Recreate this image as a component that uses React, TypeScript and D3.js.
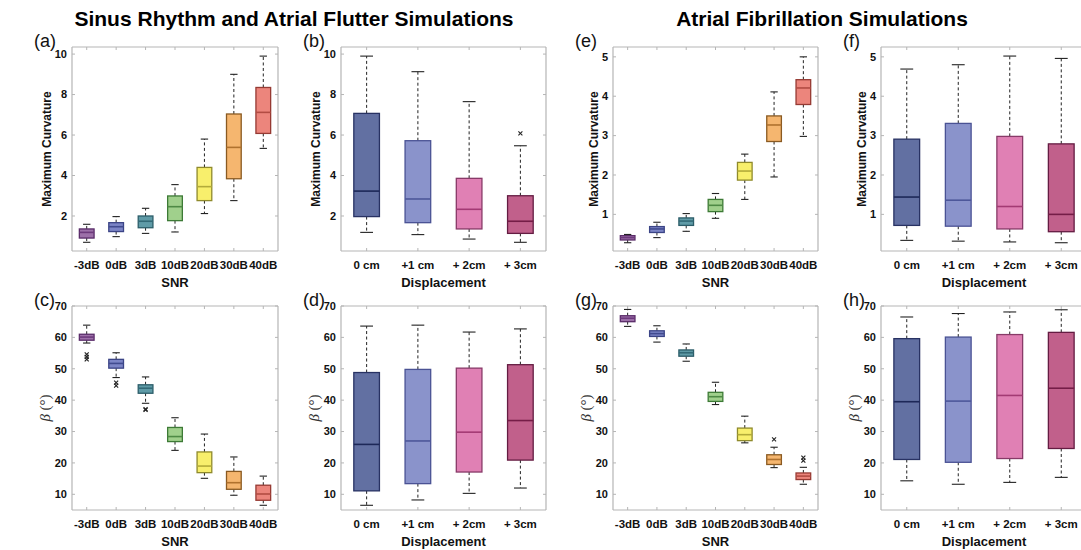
import React from 'react';
import * as d3 from 'd3';

// ---------- categories ----------
const snrCats = ['-3dB', '0dB', '3dB', '10dB', '20dB', '30dB', '40dB'];
const dispCats = ['0 cm', '+1 cm', '+ 2cm', '+ 3cm'];

// ---------- box stats: [lower whisker, q1, median, q3, upper whisker] ----------
const curvSnrSR = [
  [0.70, 0.91, 1.19, 1.36, 1.59],
  [0.98, 1.23, 1.47, 1.67, 1.97],
  [1.14, 1.42, 1.74, 2.0, 2.38],
  [1.21, 1.77, 2.46, 2.99, 3.55],
  [2.12, 2.76, 3.45, 4.40, 5.80],
  [2.76, 3.84, 5.39, 7.04, 9.0],
  [5.34, 6.08, 7.12, 8.35, 9.9],
];
const curvDispSR = [
  [1.19, 1.97, 3.23, 7.07, 9.9],
  [1.08, 1.67, 2.84, 5.72, 9.13],
  [0.86, 1.36, 2.33, 3.86, 7.65],
  [0.70, 1.14, 1.74, 3.0, 5.47],
];
const betaSnrSR = [
  [58.2, 59.1, 60.1, 61.0, 63.9],
  [47.2, 50.2, 51.7, 53.0, 55.1],
  [39.0, 42.2, 43.8, 44.9, 47.4],
  [24.0, 26.8, 28.4, 31.3, 34.4],
  [15.1, 16.9, 19.0, 23.5, 29.2],
  [9.7, 11.6, 13.7, 17.3, 21.9],
  [6.5, 8.1, 10.1, 12.9, 15.8],
];
const betaDispSR = [
  [6.5, 11.1, 25.9, 48.8, 63.6],
  [8.2, 13.4, 27.0, 49.8, 63.9],
  [10.3, 17.1, 29.8, 50.2, 61.7],
  [12.0, 20.9, 33.5, 51.3, 62.7],
];
const curvSnrAF = [
  [0.28, 0.35, 0.41, 0.46, 0.49],
  [0.41, 0.54, 0.63, 0.69, 0.80],
  [0.57, 0.72, 0.83, 0.91, 1.02],
  [0.90, 1.07, 1.23, 1.38, 1.53],
  [1.38, 1.87, 2.10, 2.32, 2.53],
  [1.95, 2.85, 3.27, 3.50, 4.11],
  [2.98, 3.79, 4.21, 4.42, 5.0],
];
const curvDispAF = [
  [0.34, 0.72, 1.44, 2.91, 4.69],
  [0.32, 0.70, 1.36, 3.31, 4.80],
  [0.30, 0.63, 1.20, 2.98, 5.02],
  [0.28, 0.56, 1.0, 2.79, 4.96],
];
const betaSnrAF = [
  [63.5, 65.0, 66.1, 66.9, 68.9],
  [58.5, 60.3, 61.2, 62.1, 63.7],
  [52.4, 54.0, 55.1, 56.0, 57.9],
  [38.6, 39.6, 41.1, 42.5, 45.7],
  [26.4, 27.1, 29.0, 31.1, 34.9],
  [18.5, 19.5, 21.1, 22.6, 25.0],
  [13.2, 14.7, 15.8, 16.8, 18.6],
];
const betaDispAF = [
  [14.3, 21.1, 39.5, 59.6, 66.5],
  [13.2, 20.2, 39.7, 60.1, 67.6],
  [13.8, 21.4, 41.5, 60.9, 68.1],
  [15.4, 24.6, 43.8, 61.6, 68.8],
];

// ---------- outliers: [category index, value] ----------
const outCurvSnrSR: number[][] = [];
const outCurvDispSR = [[3, 6.08]];
const outBetaSnrSR = [
  [0, 54.6], [0, 53.8], [0, 53.0],
  [1, 45.6], [1, 44.6],
  [2, 37.1], [2, 36.9],
];
const outBetaDispSR: number[][] = [];
const outCurvSnrAF: number[][] = [];
const outCurvDispAF: number[][] = [];
const outBetaSnrAF = [[5, 27.5], [6, 21.7], [6, 20.7]];
const outBetaDispAF: number[][] = [];

// ---------- ticks ----------
const curvTicksSR = [2, 4, 6, 8, 10];
const curvTicksAF = [1, 2, 3, 4, 5];
const betaTicks = [10, 20, 30, 40, 50, 60, 70];

// ---------- colours ----------
const snrFill = ['#9d70a9', '#7c85c6', '#5f9ba7', '#a0d08c', '#f8ef6c', '#f5b66f', '#ec857c'];
const snrEdge = ['#5a2c69', '#3b4486', '#2c5d69', '#3d7a36', '#8f8a2c', '#8a5a22', '#963a33'];
const snrMed = ['#6d3a7c', '#414b8f', '#336a77', '#4e8a45', '#b3ab3a', '#b0722e', '#b24c43'];
const dispFill = ['#6270a2', '#8a93cb', '#e080b4', '#c1608b'];
const dispEdge = ['#283263', '#4a5294', '#883a68', '#641c42'];
const dispMed = ['#1d2858', '#4d579a', '#a33a74', '#751d47'];

type PanelProps = {
  left: number; right: number; top: number; bottom: number;
  domain: [number, number]; ticks: number[]; cats: string[];
  stats: number[][]; outliers: number[][];
  fills: string[]; edges: string[]; meds: string[];
  ylabel: string; xlabel: string; tag: string; beta?: boolean; ylabOff: number;
};

const AX = '#b5b5b5';
const FONT = 'Liberation Sans, Arial, Helvetica, sans-serif';

function Panel(p: PanelProps) {
  const x = d3.scaleLinear().domain([0.5, p.cats.length + 0.5]).range([p.left, p.right]);
  const y = d3.scaleLinear().domain(p.domain).range([p.bottom, p.top]);
  const unit = x(1) - x(0);
  const bw = unit * 0.5;
  const cw = bw * 0.5;
  const tl = 3;
  const visRight = Math.min(p.right, 1081);
  return (
    <g>
      {/* box */}
      <line x1={p.left} x2={p.right} y1={p.bottom} y2={p.bottom} stroke={AX} strokeWidth={1.2} />
      <line x1={p.left} x2={p.right} y1={p.top} y2={p.top} stroke={AX} strokeWidth={1.2} />
      <line x1={p.left} x2={p.left} y1={p.top} y2={p.bottom} stroke={AX} strokeWidth={1.2} />
      <line x1={p.right} x2={p.right} y1={p.top} y2={p.bottom} stroke={AX} strokeWidth={1.2} />
      {p.ticks.map((t) => (
        <g key={'yt' + t}>
          <line x1={p.left} x2={p.left + tl} y1={y(t)} y2={y(t)} stroke={AX} />
          <line x1={p.right} x2={p.right - tl} y1={y(t)} y2={y(t)} stroke={AX} />
          <text x={p.left - 5} y={y(t)} dy="0.35em" textAnchor="end" fontFamily={FONT} fontWeight="bold" fontSize={11} fill="#111">{t}</text>
        </g>
      ))}
      {p.cats.map((c, i) => (
        <g key={'xt' + c}>
          <line x1={x(i + 1)} x2={x(i + 1)} y1={p.bottom} y2={p.bottom - tl} stroke={AX} />
          <line x1={x(i + 1)} x2={x(i + 1)} y1={p.top} y2={p.top + tl} stroke={AX} />
          <text x={x(i + 1)} y={p.bottom + 18} textAnchor="middle" fontFamily={FONT} fontWeight="bold" fontSize={11.5} fill="#111">{c}</text>
        </g>
      ))}
      {/* boxes */}
      {p.stats.map((s, i) => {
        const cx = x(i + 1);
        const [lo, q1, md, q3, hi] = s;
        return (
          <g key={'b' + i}>
            <line x1={cx} x2={cx} y1={y(q3)} y2={y(hi)} stroke="#222" strokeWidth={1} strokeDasharray="3,2.5" />
            <line x1={cx} x2={cx} y1={y(q1)} y2={y(lo)} stroke="#222" strokeWidth={1} strokeDasharray="3,2.5" />
            <line x1={cx - cw / 2} x2={cx + cw / 2} y1={y(hi)} y2={y(hi)} stroke="#222" strokeWidth={1.1} />
            <line x1={cx - cw / 2} x2={cx + cw / 2} y1={y(lo)} y2={y(lo)} stroke="#222" strokeWidth={1.1} />
            <rect x={cx - bw / 2} y={y(q3)} width={bw} height={y(q1) - y(q3)} fill={p.fills[i]} stroke={p.edges[i]} strokeWidth={1.3} />
            <line x1={cx - bw / 2} x2={cx + bw / 2} y1={y(md)} y2={y(md)} stroke={p.meds[i]} strokeWidth={1.6} />
          </g>
        );
      })}
      {p.outliers.map((o, k) => {
        const cx = x(o[0] + 1);
        const cy = y(o[1]);
        const r = 2;
        return (
          <g key={'o' + k} stroke="#222" strokeWidth={1.1}>
            <line x1={cx - r} x2={cx + r} y1={cy - r} y2={cy + r} />
            <line x1={cx - r} x2={cx + r} y1={cy + r} y2={cy - r} />
          </g>
        );
      })}
      {/* labels */}
      <text x={(p.left + Math.min(p.right, visRight + 10)) / 2} y={p.bottom + 36} textAnchor="middle" fontFamily={FONT} fontWeight="bold" fontSize={13} fill="#111">{p.xlabel}</text>
      {p.beta ? (
        <text transform={`translate(${p.left - p.ylabOff},${(p.top + p.bottom) / 2}) rotate(-90)`} textAnchor="middle" dy="0.35em" fontFamily="Liberation Serif, Times New Roman, serif" fontSize={15} fill="#333">
          <tspan fontStyle="italic">β</tspan> (°)
        </text>
      ) : (
        <text transform={`translate(${p.left - p.ylabOff},${(p.top + p.bottom) / 2}) rotate(-90)`} textAnchor="middle" dy="0.35em" fontFamily={FONT} fontWeight="bold" fontSize={12} fill="#111">{p.ylabel}</text>
      )}
      <text x={p.left - 38} y={p.top} fontFamily={FONT} fontSize={18} fill="#111">{p.tag}</text>
    </g>
  );
}

const colL = [72, 341, 613, 881];
const colR = [278, 546, 818, 1087];
const rowT = [47, 306];
const rowB = [251, 510];

export default function App() {
  return (
    <div style={{ position: 'absolute', left: 0, top: 0 }}>
      <svg width={1081} height={550} style={{ display: 'block', background: '#fff' }}>
        <text x={294} y={25.5} textAnchor="middle" fontFamily={FONT} fontWeight="bold" fontSize={21} fill="#000">Sinus Rhythm and Atrial Flutter Simulations</text>
        <text x={822} y={25.5} textAnchor="middle" fontFamily={FONT} fontWeight="bold" fontSize={21} fill="#000">Atrial Fibrillation Simulations</text>

        <Panel left={colL[0]} right={colR[0]} top={rowT[0]} bottom={rowB[0]} domain={[0.27, 10.35]} ticks={curvTicksSR} cats={snrCats}
          stats={curvSnrSR} outliers={outCurvSnrSR} fills={snrFill} edges={snrEdge} meds={snrMed}
          ylabel="Maximum Curvature" xlabel="SNR" tag="(a)" ylabOff={25} />
        <Panel left={colL[1]} right={colR[1]} top={rowT[0]} bottom={rowB[0]} domain={[0.27, 10.35]} ticks={curvTicksSR} cats={dispCats}
          stats={curvDispSR} outliers={outCurvDispSR} fills={dispFill} edges={dispEdge} meds={dispMed}
          ylabel="Maximum Curvature" xlabel="Displacement" tag="(b)" ylabOff={25} />
        <Panel left={colL[2]} right={colR[2]} top={rowT[0]} bottom={rowB[0]} domain={[0.07, 5.25]} ticks={curvTicksAF} cats={snrCats}
          stats={curvSnrAF} outliers={outCurvSnrAF} fills={snrFill} edges={snrEdge} meds={snrMed}
          ylabel="Maximum Curvature" xlabel="SNR" tag="(e)" ylabOff={19} />
        <Panel left={colL[3]} right={colR[3]} top={rowT[0]} bottom={rowB[0]} domain={[0.07, 5.25]} ticks={curvTicksAF} cats={dispCats}
          stats={curvDispAF} outliers={outCurvDispAF} fills={dispFill} edges={dispEdge} meds={dispMed}
          ylabel="Maximum Curvature" xlabel="Displacement" tag="(f)" ylabOff={19} />

        <Panel left={colL[0]} right={colR[0]} top={rowT[1]} bottom={rowB[1]} domain={[5, 70]} ticks={betaTicks} cats={snrCats}
          stats={betaSnrSR} outliers={outBetaSnrSR} fills={snrFill} edges={snrEdge} meds={snrMed}
          ylabel="β (°)" xlabel="SNR" tag="(c)" beta ylabOff={27} />
        <Panel left={colL[1]} right={colR[1]} top={rowT[1]} bottom={rowB[1]} domain={[5, 70]} ticks={betaTicks} cats={dispCats}
          stats={betaDispSR} outliers={outBetaDispSR} fills={dispFill} edges={dispEdge} meds={dispMed}
          ylabel="β (°)" xlabel="Displacement" tag="(d)" beta ylabOff={27} />
        <Panel left={colL[2]} right={colR[2]} top={rowT[1]} bottom={rowB[1]} domain={[5, 70]} ticks={betaTicks} cats={snrCats}
          stats={betaSnrAF} outliers={outBetaSnrAF} fills={snrFill} edges={snrEdge} meds={snrMed}
          ylabel="β (°)" xlabel="SNR" tag="(g)" beta ylabOff={27} />
        <Panel left={colL[3]} right={colR[3]} top={rowT[1]} bottom={rowB[1]} domain={[5, 70]} ticks={betaTicks} cats={dispCats}
          stats={betaDispAF} outliers={outBetaDispAF} fills={dispFill} edges={dispEdge} meds={dispMed}
          ylabel="β (°)" xlabel="Displacement" tag="(h)" beta ylabOff={27} />
      </svg>
    </div>
  );
}
